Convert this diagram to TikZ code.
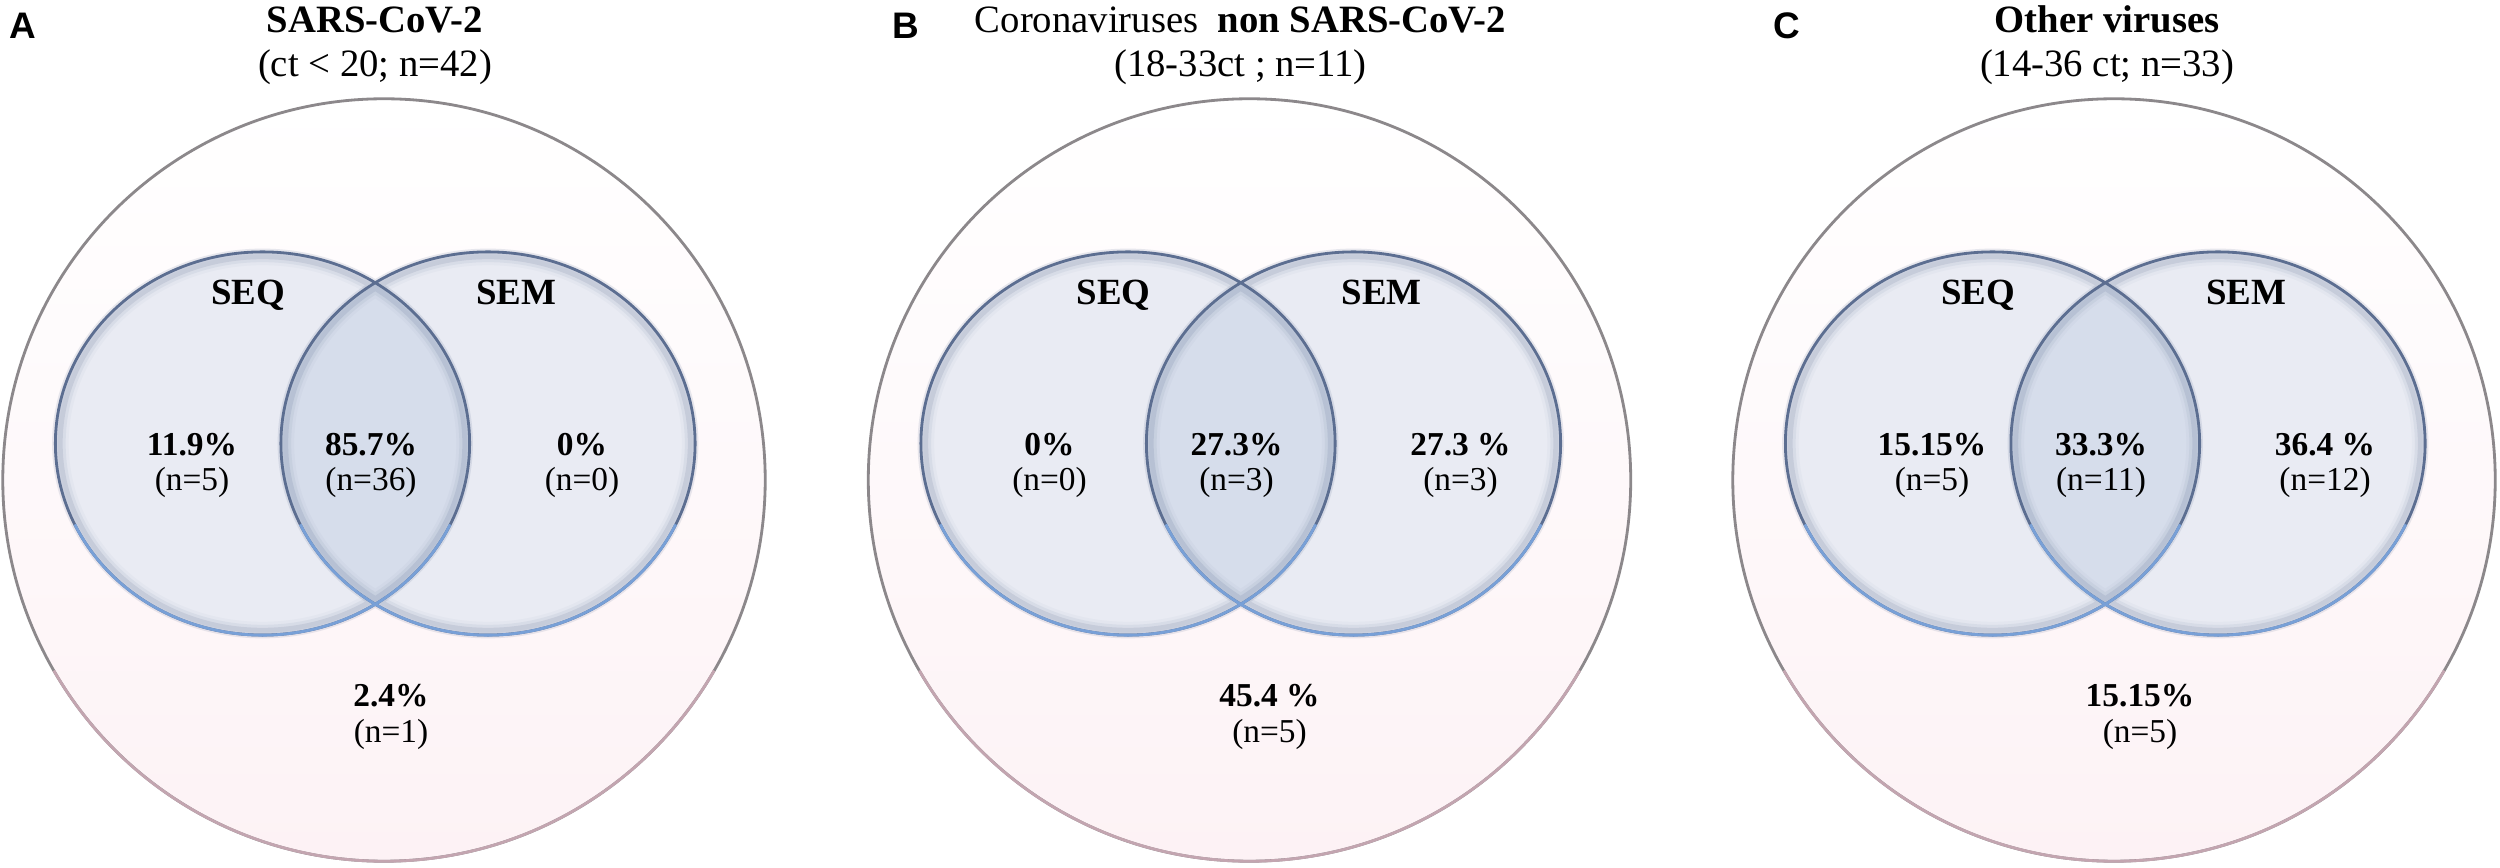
\documentclass[tikz,border=0pt]{standalone}
\usepackage{fontspec}
\setmainfont{Liberation Serif}
\newfontfamily\lsans{Liberation Sans}
\definecolor{bigpink}{RGB}{253,242,245}
\definecolor{bigline}{RGB}{140,136,139}
\definecolor{bigline2}{RGB}{195,165,176}
\definecolor{vennfill}{RGB}{233,235,243}
\definecolor{lensfill}{RGB}{214,221,235}
\definecolor{vennline}{RGB}{92,110,145}
\definecolor{vennline2}{RGB}{120,160,215}
\tikzset{
  pct/.style={anchor=base, inner sep=0pt, font=\fontsize{9.5}{11}\selectfont\bfseries},
  cnt/.style={anchor=base, inner sep=0pt, font=\fontsize{9.5}{11}\selectfont},
  setlab/.style={anchor=base, inner sep=0pt, font=\fontsize{10.5}{12}\selectfont\bfseries},
  ttl/.style={anchor=base, inner sep=0pt, font=\fontsize{11}{13}\selectfont\bfseries},
  subttl/.style={anchor=base, inner sep=0pt, font=\fontsize{11}{13}\selectfont},
  plab/.style={anchor=base, inner sep=0pt, font=\fontsize{10.5}{12}\selectfont\lsans\bfseries},
  bigring/.style={line width=0.8pt},
  vennring/.style={vennline, line width=0.8pt},
}
\newcommand\vset[1]{#1 ellipse[x radius=2.07cm, y radius=1.915cm]}
\newcommand\drawpanelshapes[1]{%
  \shade[top color=white, bottom color=bigpink] (384,480) circle[radius=3.81cm];
  \draw[bigring, bigline] (384,480) circle[radius=3.81cm];
  \draw[bigring, bigline2] (384,480) ++(-150:3.81cm) arc[start angle=-150, end angle=-30, radius=3.81cm];
  \fill[vennfill] (262.5,443.5) ellipse[x radius=2.07cm, y radius=1.915cm]
                  (488,443.5) ellipse[x radius=2.07cm, y radius=1.915cm];
  \begin{scope}
    \clip (262.5,443.5) ellipse[x radius=2.07cm, y radius=1.915cm];
    \fill[lensfill] (488,443.5) ellipse[x radius=2.07cm, y radius=1.915cm];
  \end{scope}
  \foreach \dr/\op in {0.02/0.14, 0.05/0.08, 0.08/0.04}{
    \draw[vennline, opacity=\op, line width=3pt]
      (262.5,443.5) ellipse[x radius=2.07cm-\dr cm, y radius=1.915cm-\dr cm]
      (488,443.5) ellipse[x radius=2.07cm-\dr cm, y radius=1.915cm-\dr cm];
  }
  \draw[vennring] (262.5,443.5) ellipse[x radius=2.07cm, y radius=1.915cm]
                  (488,443.5) ellipse[x radius=2.07cm, y radius=1.915cm];
  \draw[vennline2, line width=0.8pt] (262.5,443.5) ++(-155:2.07cm and 1.915cm)
      arc[start angle=-155, end angle=-25, x radius=2.07cm, y radius=1.915cm];
  \draw[vennline2, line width=0.8pt] (488,443.5) ++(-155:2.07cm and 1.915cm)
      arc[start angle=-155, end angle=-25, x radius=2.07cm, y radius=1.915cm];
  \node[setlab] (#1seq) at (248,305) {SEQ};
  \node[setlab] (#1sem) at (516,305) {SEM};
}
\begin{document}
\begin{tikzpicture}[x=0.01cm, y=-0.01cm]
\fill[white] (0,0) rectangle (2500,868);
\useasboundingbox (0,0) rectangle (2500,868);

% Panel A
\begin{scope}
  \drawpanelshapes{A}
  \node[plab] (Alab) at (23,39) {A};
  \node[ttl] (Attl) at (375,33) {SARS-CoV-2};
  \node[subttl] (Asub) at (375,77) {(ct < 20; n=42)};
  \node[pct] (Alp) at (192,456) {11.9\%};
  \node[cnt] (Aln) at (192,491) {(n=5)};
  \node[pct] (Amp) at (371,456) {85.7\%};
  \node[cnt] (Amn) at (371,491) {(n=36)};
  \node[pct] (Arp) at (582,456) {0\%};
  \node[cnt] (Arn) at (582,491) {(n=0)};
  \node[pct] (Abp) at (391,707) {2.4\%};
  \node[cnt] (Abn) at (391,743) {(n=1)};
\end{scope}

% Panel B
\begin{scope}[xshift=8.65cm]
  \drawpanelshapes{B}
  \node[plab] (Blab) at (40,39) {B};
  \node[subttl] (Bttl) at (375,33) {Coronaviruses\ \ \textbf{non SARS-CoV-2}};
  \node[subttl] (Bsub) at (375,77) {(18-33ct ; n=11)};
  \node[pct] (Blp) at (184,456) {0\%};
  \node[cnt] (Bln) at (184,491) {(n=0)};
  \node[pct] (Bmp) at (371,456) {27.3\%};
  \node[cnt] (Bmn) at (371,491) {(n=3)};
  \node[pct] (Brp) at (595,456) {27.3 \%};
  \node[cnt] (Brn) at (595,491) {(n=3)};
  \node[pct] (Bbp) at (404,707) {45.4 \%};
  \node[cnt] (Bbn) at (404,743) {(n=5)};
\end{scope}

% Panel C
\begin{scope}[xshift=17.29cm]
  \drawpanelshapes{C}
  \node[plab] (Clab) at (57,39) {C};
  \node[ttl] (Cttl) at (377,33) {Other viruses};
  \node[subttl] (Csub) at (377,77) {(14-36 ct; n=33)};
  \node[pct] (Clp) at (202,456) {15.15\%};
  \node[cnt] (Cln) at (202,491) {(n=5)};
  \node[pct] (Cmp) at (371,456) {33.3\%};
  \node[cnt] (Cmn) at (371,491) {(n=11)};
  \node[pct] (Crp) at (595,456) {36.4 \%};
  \node[cnt] (Crn) at (595,491) {(n=12)};
  \node[pct] (Cbp) at (410,707) {15.15\%};
  \node[cnt] (Cbn) at (410,743) {(n=5)};
\end{scope}
\end{tikzpicture}
\end{document}
